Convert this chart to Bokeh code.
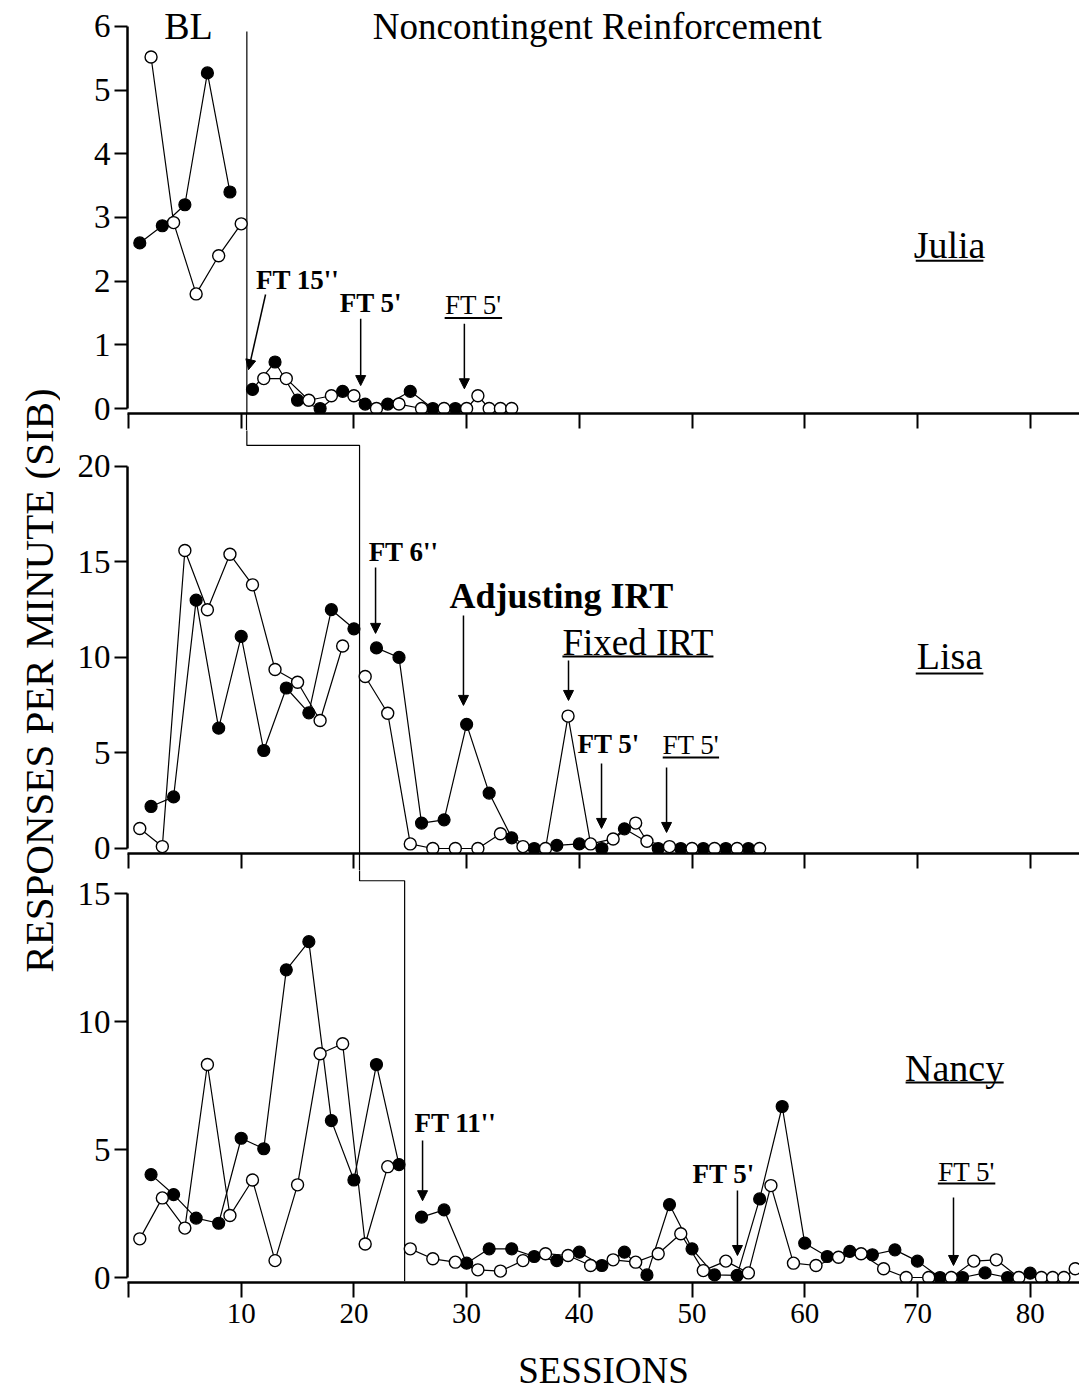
from bokeh.plotting import figure
from bokeh.models import Range1d, LinearAxis, FixedTicker, Label, Arrow, NormalHead
from bokeh.layouts import column, row
from bokeh.embed import file_html
from bokeh.resources import INLINE
import math

FONT = "Liberation Serif"

# ---------------- data ----------------
x_ticks = [0, 10, 20, 30, 40, 50, 60, 70, 80]

# Julia
julia_bl_filled_x = [1, 3, 5, 7, 9]
julia_bl_filled_y = [2.6, 2.87, 3.2, 5.27, 3.4]
julia_bl_open_x = [2, 4, 6, 8, 10]
julia_bl_open_y = [5.52, 2.92, 1.8, 2.4, 2.9]
julia_tx_filled_x = [11, 13, 15, 17, 19, 21, 23, 25, 27, 29]
julia_tx_filled_y = [0.3, 0.73, 0.13, 0.0, 0.27, 0.07, 0.07, 0.27, 0.0, 0.0]
julia_tx_open_x = [12, 14, 16, 18, 20, 22, 24, 26, 28, 30, 31, 32, 33, 34]
julia_tx_open_y = [0.47, 0.47, 0.13, 0.2, 0.2, 0.0, 0.07, 0.0, 0.0, 0.0, 0.2, 0.0, 0.0, 0.0]

# Lisa
lisa_bl_open_x = [1, 3, 5, 7, 9, 11, 13, 15, 17, 19]
lisa_bl_open_y = [1.05, 0.1, 15.6, 12.5, 15.4, 13.8, 9.37, 8.7, 6.7, 10.6]
lisa_bl_filled_x = [2, 4, 6, 8, 10, 12, 14, 16, 18, 20]
lisa_bl_filled_y = [2.2, 2.7, 13.0, 6.3, 11.1, 5.13, 8.4, 7.1, 12.5, 11.5]
lisa_tx_open_x = [21, 23, 25, 27, 29, 31, 33, 35, 37, 39, 41, 43, 45, 46, 48, 50, 52, 54, 56]
lisa_tx_open_y = [9.0, 7.08, 0.24, 0.0, 0.0, 0.0, 0.77, 0.1, 0.0, 6.93, 0.24, 0.5, 1.33, 0.38,
                  0.1, 0.0, 0.0, 0.0, 0.0]
lisa_tx_filled_x = [22, 24, 26, 28, 30, 32, 34, 36, 38, 40, 42, 44, 47, 49, 51, 53, 55]
lisa_tx_filled_y = [10.5, 10.0, 1.33, 1.5, 6.5, 2.9, 0.56, 0.0, 0.16, 0.24, 0.0, 1.03,
                    0.0, 0.0, 0.0, 0.0, 0.0]

# Nancy
nancy_bl_open_x = [1, 3, 5, 7, 9, 11, 13, 15, 17, 19, 21, 23]
nancy_bl_open_y = [1.51, 3.11, 1.93, 8.32, 2.42, 3.81, 0.66, 3.62, 8.74, 9.13, 1.31, 4.33]
nancy_bl_filled_x = [2, 4, 6, 8, 10, 12, 14, 16, 18, 20, 22, 24]
nancy_bl_filled_y = [4.02, 3.24, 2.32, 2.12, 5.44, 5.03, 12.02, 13.12, 6.13, 3.81, 8.32, 4.41]
nancy_tx_open_x = [25, 27, 29, 31, 33, 35, 37, 39, 41, 43, 45, 47, 49, 51, 53, 55, 57, 59, 61,
                   63, 65, 67, 69, 71, 73, 75, 77, 79, 81, 82, 83, 84]
nancy_tx_open_y = [1.12, 0.73, 0.6, 0.3, 0.25, 0.66, 0.93, 0.86, 0.47, 0.69, 0.6, 0.93, 1.71,
                   0.27, 0.64, 0.18, 3.59, 0.56, 0.47, 0.79, 0.93, 0.34, 0.0, 0.0, 0.0, 0.64,
                   0.69, 0.0, 0.0, 0.0, 0.0, 0.34]
nancy_tx_filled_x = [26, 28, 30, 32, 34, 36, 38, 40, 42, 44, 46, 48, 50, 52, 54, 56, 58, 60, 62,
                     64, 66, 68, 70, 72, 74, 76, 78, 80]
nancy_tx_filled_y = [2.36, 2.64, 0.56, 1.12, 1.12, 0.82, 0.66, 0.99, 0.47, 0.99, 0.1, 2.85,
                     1.12, 0.1, 0.08, 3.07, 6.68, 1.34, 0.82, 1.02, 0.89, 1.08, 0.64, 0.0, 0.0,
                     0.18, 0.0, 0.17]

# ---------------- layout ----------------
TOTAL_H = 1398
LABEL_W = 60
W = 1079 - LABEL_W
X0, X1 = -0.09, 84.38
LEFT = 67


def base_fig(height, y0, y1, bottom_border):
    p = figure(width=W, height=height, x_range=Range1d(X0, X1), y_range=Range1d(y0, y1),
               output_backend="svg", toolbar_location=None,
               x_axis_location=None, y_axis_location=None,
               min_border_left=LEFT, min_border_right=0, min_border_top=0,
               min_border_bottom=bottom_border)
    p.outline_line_color = None
    p.grid.visible = False
    p.background_fill_color = "white"
    p.border_fill_color = "white"
    return p


def add_yaxis(p, ticks, bound):
    ax = LinearAxis(ticker=FixedTicker(ticks=ticks), bounds=bound)
    ax.major_tick_out = 13
    ax.major_tick_in = 0
    ax.minor_tick_out = 0
    ax.minor_tick_in = 0
    ax.axis_line_width = 2.5
    ax.major_tick_line_width = 2
    ax.major_label_text_font = FONT
    ax.major_label_text_font_size = "33px"
    ax.major_label_text_color = "black"
    ax.major_label_standoff = 4
    p.add_layout(ax, "left")


def add_inner_xaxis(p, phase_x):
    # x axis of an upper panel (no labels); the minor tick continues the phase-change line
    ax = LinearAxis(ticker=FixedTicker(ticks=x_ticks, minor_ticks=[phase_x]),
                    major_label_overrides={t: "" for t in x_ticks})
    ax.major_tick_out = 15
    ax.major_tick_in = 0
    ax.minor_tick_out = 17
    ax.minor_tick_in = 0
    ax.minor_tick_line_width = 1.2
    ax.axis_line_width = 2.5
    ax.major_tick_line_width = 2
    ax.major_label_text_font_size = "1px"
    ax.major_label_standoff = 0
    p.add_layout(ax, "below")


def draw_series(p, segs_filled, segs_open):
    for xs, ys in segs_filled + segs_open:
        p.line(xs, ys, line_color="black", line_width=1.2)
    for xs, ys in segs_filled:
        p.scatter(xs, ys, size=12, marker="circle", fill_color="black", line_color="black",
                  line_width=1.2)
    for xs, ys in segs_open:
        p.scatter(xs, ys, size=12, marker="circle", fill_color="white", line_color="black",
                  line_width=1.4)


def add_text(p, text, x, y, size, bold=False, underline=None):
    p.add_layout(Label(x=x, y=y, text=text, text_font=FONT, text_font_size=size,
                       text_font_style="bold" if bold else "normal", text_color="black",
                       text_align="center", text_baseline="middle"))
    if underline is not None:
        hw, uy = underline
        p.segment(x0=[x - hw], y0=[uy], x1=[x + hw], y1=[uy], line_color="black",
                  line_width=2)


def add_arrow(p, x0, y0, x1, y1):
    p.add_layout(Arrow(end=NormalHead(size=10, fill_color="black", line_color="black"),
                       x_start=x0, y_start=y0, x_end=x1, y_end=y1,
                       line_color="black", line_width=1.5))


def phase(p, xs, ys):
    p.line(xs, ys, line_color="black", line_width=1.2)


# ---- y-axis title strip ----
pl = figure(width=LABEL_W, height=TOTAL_H, x_range=Range1d(0, LABEL_W),
            y_range=Range1d(0, TOTAL_H), output_backend="svg", toolbar_location=None,
            x_axis_location=None, y_axis_location=None,
            min_border_left=0, min_border_right=0, min_border_top=0, min_border_bottom=0)
pl.outline_line_color = None
pl.grid.visible = False
pl.add_layout(Label(x=38, y=TOTAL_H - 680, text="RESPONSES PER MINUTE (SIB)", text_font=FONT,
                    text_font_size="41px", text_color="black", angle=math.pi / 2,
                    text_align="center", text_baseline="middle"))

# ---- Julia (top) ----
p1 = base_fig(430, -0.0785, 6.408, 17)
add_inner_xaxis(p1, 10.5)
add_yaxis(p1, [0, 1, 2, 3, 4, 5, 6], (0, 6))
phase(p1, [10.5, 10.5], [5.92, -1])
draw_series(p1,
            [(julia_bl_filled_x, julia_bl_filled_y), (julia_tx_filled_x, julia_tx_filled_y)],
            [(julia_bl_open_x, julia_bl_open_y), (julia_tx_open_x, julia_tx_open_y)])
add_text(p1, "BL", 5.32, 6.0, "38px")
add_text(p1, "Noncontingent Reinforcement", 41.6, 6.0, "37px")
add_text(p1, "FT 15''", 15.0, 2.02, "27px", bold=True)
add_arrow(p1, 12.16, 1.79, 10.65, 0.61)
add_text(p1, "FT 5'", 21.5, 1.66, "27px", bold=True)
add_arrow(p1, 20.6, 1.41, 20.6, 0.36)
add_text(p1, "FT 5'", 30.6, 1.62, "27px", underline=(2.55, 1.42))
add_arrow(p1, 29.8, 1.33, 29.8, 0.31)
add_text(p1, "Julia", 72.85, 2.57, "38px", underline=(3.0, 2.32))

# ---- Lisa (middle) ----
p2 = base_fig(440, -0.262, 21.88, 17)
add_inner_xaxis(p2, 20.5)
add_yaxis(p2, [0, 5, 10, 15, 20], (0, 20))
phase(p2, [10.5, 10.5, 20.5, 20.5], [25, 21.1, 21.1, -2])
draw_series(p2,
            [(lisa_bl_filled_x, lisa_bl_filled_y), (lisa_tx_filled_x, lisa_tx_filled_y)],
            [(lisa_bl_open_x, lisa_bl_open_y), (lisa_tx_open_x, lisa_tx_open_y)])
add_text(p2, "FT 6''", 24.4, 15.5, "27px", bold=True)
add_arrow(p2, 21.92, 14.71, 21.92, 11.26)
add_text(p2, "Adjusting IRT", 38.4, 13.2, "36px", bold=True)
add_arrow(p2, 29.72, 12.2, 29.72, 7.49)
add_text(p2, "Fixed IRT", 45.2, 10.8, "37px", underline=(6.7, 10.05))
add_arrow(p2, 39.04, 9.84, 39.04, 7.75)
add_text(p2, "FT 5'", 42.6, 5.45, "27px", bold=True)
add_arrow(p2, 41.97, 4.45, 41.97, 1.05)
add_text(p2, "FT 5'", 49.9, 5.4, "27px", underline=(2.5, 4.76))
add_arrow(p2, 47.74, 4.24, 47.74, 0.84)
add_text(p2, "Lisa", 72.85, 10.05, "38px", underline=(3.0, 9.16))

# ---- Nancy (bottom) ----
p3 = base_fig(TOTAL_H - 870, -0.195, 15.9, 116)
add_yaxis(p3, [0, 5, 10, 15], (0, 15))
bx = LinearAxis(ticker=FixedTicker(ticks=x_ticks), major_label_overrides={0: ""})
bx.major_tick_out = 15
bx.major_tick_in = 0
bx.minor_tick_out = 0
bx.minor_tick_in = 0
bx.axis_line_width = 2.5
bx.major_tick_line_width = 2
bx.major_label_text_font = FONT
bx.major_label_text_font_size = "29px"
bx.major_label_text_color = "black"
bx.major_label_standoff = 6
bx.axis_label = "SESSIONS"
bx.axis_label_text_font = FONT
bx.axis_label_text_font_size = "37px"
bx.axis_label_text_font_style = "normal"
bx.axis_label_text_color = "black"
bx.axis_label_standoff = 24
p3.add_layout(bx, "below")
phase(p3, [20.5, 20.5, 24.5, 24.5], [18, 15.5, 15.5, -0.15])
draw_series(p3,
            [(nancy_bl_filled_x, nancy_bl_filled_y), (nancy_tx_filled_x, nancy_tx_filled_y)],
            [(nancy_bl_open_x, nancy_bl_open_y), (nancy_tx_open_x, nancy_tx_open_y)])
add_text(p3, "FT 11''", 29.0, 6.05, "27px", bold=True)
add_arrow(p3, 26.09, 5.35, 26.09, 3.0)
add_text(p3, "FT 5'", 52.8, 4.06, "27px", bold=True)
add_arrow(p3, 54.03, 3.4, 54.03, 0.86)
add_text(p3, "FT 5'", 74.36, 4.14, "27px", underline=(2.55, 3.67))
add_arrow(p3, 73.2, 3.13, 73.2, 0.47)
add_text(p3, "Nancy", 73.3, 8.2, "38px", underline=(4.35, 7.62))

layout = row(pl, column(p1, p2, p3, spacing=0), spacing=0)
open("out.html", "w").write(file_html(layout, INLINE))
